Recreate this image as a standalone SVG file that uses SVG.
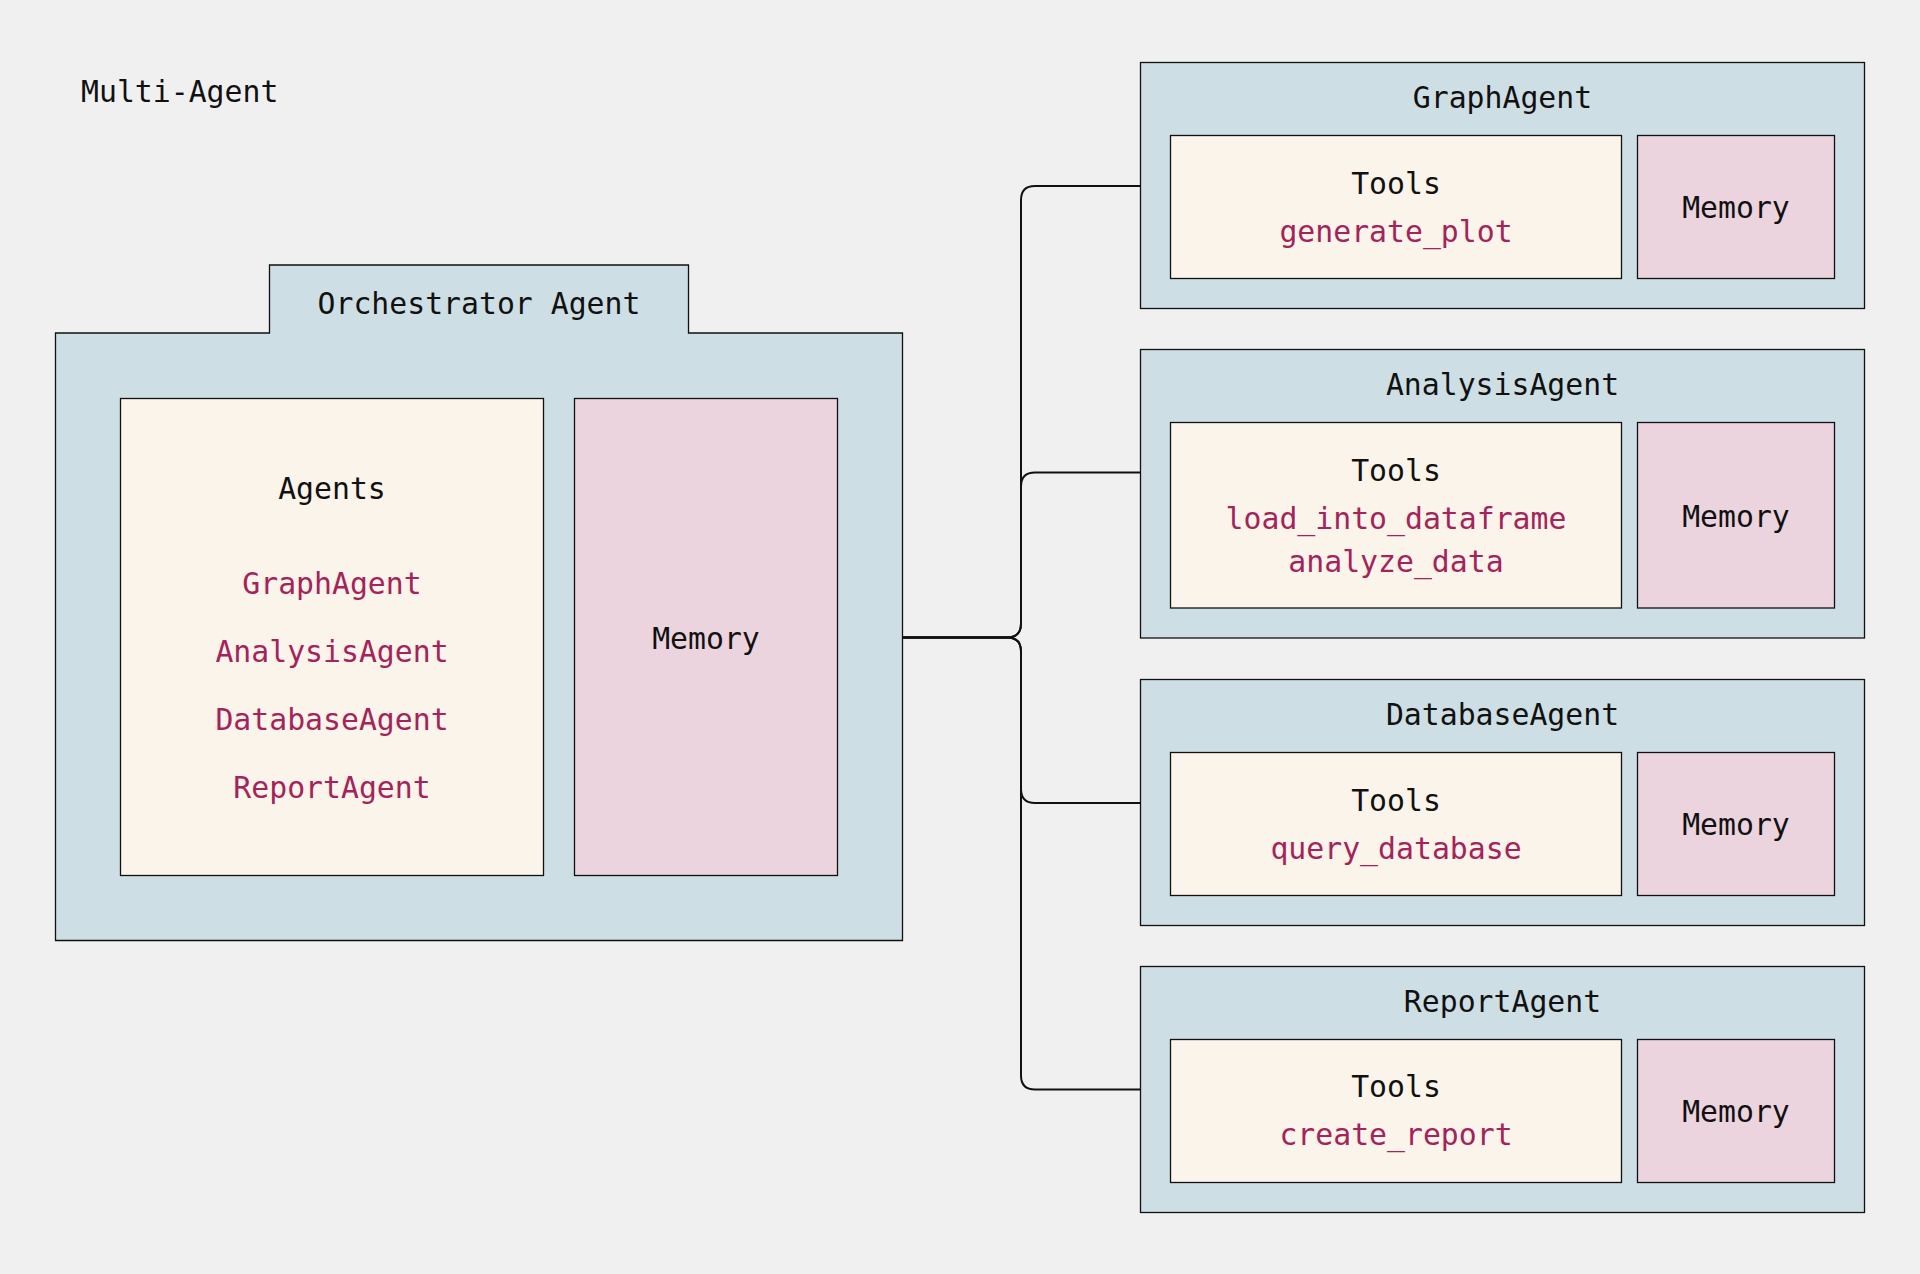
<svg xmlns="http://www.w3.org/2000/svg" width="1920" height="1274" viewBox="0 0 1920 1274">
<style>
text{font-family:"DejaVu Sans Mono","Liberation Mono",monospace;font-size:29.8px;fill:#111111;text-anchor:middle}
.code{fill:#a3235a}
.lt{text-anchor:start}
.agent{fill:#cddfe4;stroke:#111111;stroke-width:1.3}
.tools{fill:#fbf4ea;stroke:#111111;stroke-width:1.3}
.mem{fill:#ecd4de;stroke:#111111;stroke-width:1.3}
.conn{fill:none;stroke:#111111;stroke-width:2}
</style>
<rect width="1920" height="1274" fill="#f0f0f0"/>
<text class="lt" x="81" y="102">Multi-Agent</text>

<g id="connectors">
<path class="conn" d="M902.5 637.5 H1007 Q1021 637.5 1021 623.5 V200 Q1021 186 1035 186 H1141"/>
<path class="conn" d="M902.5 637.5 H1007 Q1021 637.5 1021 623.5 V486.5 Q1021 472.5 1035 472.5 H1141"/>
<path class="conn" d="M902.5 637.5 H1007 Q1021 637.5 1021 651.5 V789 Q1021 803 1035 803 H1141"/>
<path class="conn" d="M902.5 637.5 H1007 Q1021 637.5 1021 651.5 V1075.5 Q1021 1089.5 1035 1089.5 H1141"/>
</g>

<g id="orchestrator">
<path class="agent" d="M269.5 265 H688.5 V333 H902.5 V940.5 H55.5 V333 H269.5 Z"/>
<text x="479" y="314">Orchestrator Agent</text>
<g id="orch-agents">
<rect class="tools" x="120.5" y="398.5" width="423" height="477"/>
<text x="332" y="498.5">Agents</text>
<text class="code" x="332" y="594">GraphAgent</text>
<text class="code" x="332" y="662">AnalysisAgent</text>
<text class="code" x="332" y="730">DatabaseAgent</text>
<text class="code" x="332" y="798">ReportAgent</text>
</g>
<g id="orch-memory">
<rect class="mem" x="574.5" y="398.5" width="263" height="477"/>
<text x="706" y="649">Memory</text>
</g>
</g>

<g id="graph-agent">
<rect class="agent" x="1140.5" y="62.5" width="724" height="246"/>
<text x="1502.5" y="108">GraphAgent</text>
<rect class="tools" x="1170.5" y="135.5" width="451" height="143"/>
<text x="1396" y="194">Tools</text>
<text class="code" x="1396" y="242">generate_plot</text>
<rect class="mem" x="1637.5" y="135.5" width="197" height="143"/>
<text x="1736" y="218">Memory</text>
</g>

<g id="analysis-agent">
<rect class="agent" x="1140.5" y="349.5" width="724" height="288.5"/>
<text x="1502.5" y="395">AnalysisAgent</text>
<rect class="tools" x="1170.5" y="422.5" width="451" height="185.5"/>
<text x="1396" y="480.5">Tools</text>
<text class="code" x="1396" y="528.5">load_into_dataframe</text>
<text class="code" x="1396" y="571.5">analyze_data</text>
<rect class="mem" x="1637.5" y="422.5" width="197" height="185.5"/>
<text x="1736" y="526.5">Memory</text>
</g>

<g id="database-agent">
<rect class="agent" x="1140.5" y="679.5" width="724" height="246"/>
<text x="1502.5" y="725">DatabaseAgent</text>
<rect class="tools" x="1170.5" y="752.5" width="451" height="143"/>
<text x="1396" y="810.5">Tools</text>
<text class="code" x="1396" y="858.5">query_database</text>
<rect class="mem" x="1637.5" y="752.5" width="197" height="143"/>
<text x="1736" y="835">Memory</text>
</g>

<g id="report-agent">
<rect class="agent" x="1140.5" y="966.5" width="724" height="246"/>
<text x="1502.5" y="1011.5">ReportAgent</text>
<rect class="tools" x="1170.5" y="1039.5" width="451" height="143"/>
<text x="1396" y="1097">Tools</text>
<text class="code" x="1396" y="1145">create_report</text>
<rect class="mem" x="1637.5" y="1039.5" width="197" height="143"/>
<text x="1736" y="1122">Memory</text>
</g>
</svg>
